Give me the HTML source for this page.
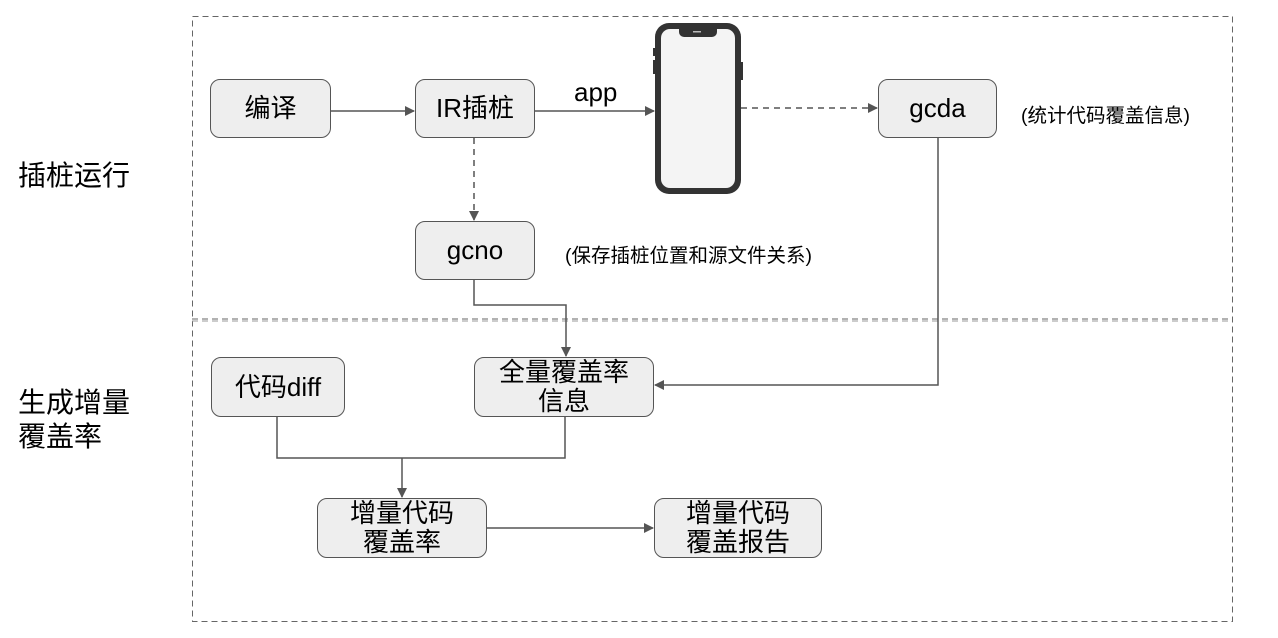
<!DOCTYPE html>
<html><head><meta charset="utf-8"><style>
body{margin:0;background:#fff;width:1278px;height:638px;overflow:hidden;position:relative;font-family:"Liberation Sans","Noto Sans CJK SC",sans-serif;}
.b{position:absolute;box-sizing:border-box;border:1.5px solid #555;border-radius:10px;background:#eeeeee;display:flex;align-items:center;justify-content:center;text-align:center;font-size:26px;line-height:29px;color:#000;}
.t{position:absolute;color:#000;white-space:nowrap;}
svg{position:absolute;left:0;top:0;}
</style></head><body>
<svg width="1278" height="638">
<defs><marker id="a" markerWidth="10" markerHeight="10" refX="9" refY="5" orient="auto" markerUnits="userSpaceOnUse"><path d="M0,0 L10,5 L0,10z" fill="#555"/></marker></defs>
<rect x="192.5" y="16.5" width="1040" height="605" fill="none" stroke="#666" stroke-dasharray="6,4"/>
<line x1="192" y1="319" x2="1232" y2="319" stroke="#666" stroke-dasharray="6,4"/>
<line x1="192" y1="321" x2="1232" y2="321" stroke="#999" stroke-dasharray="6,4"/>
<g stroke="#555" stroke-width="1.5" fill="none">
<line x1="331" y1="111" x2="414" y2="111" marker-end="url(#a)"/>
<line x1="535" y1="111" x2="654" y2="111" marker-end="url(#a)"/>
<line x1="741" y1="108" x2="877" y2="108" stroke-dasharray="6,5" marker-end="url(#a)"/>
<line x1="474" y1="138" x2="474" y2="220" stroke-dasharray="6,5" marker-end="url(#a)"/>
<polyline points="474,280 474,305 566,305 566,356" marker-end="url(#a)"/>
<polyline points="938,138 938,385 655,385" marker-end="url(#a)"/>
<polyline points="277,417 277,458 565,458 565,417"/>
<line x1="402" y1="458" x2="402" y2="497" marker-end="url(#a)"/>
<line x1="487" y1="528" x2="653" y2="528" marker-end="url(#a)"/>
</g>
<rect x="655" y="23" width="86" height="171" rx="14" fill="#333"/>
<rect x="661" y="29" width="74" height="159" rx="9" fill="#f4f4f4"/>
<path d="M679,29 h38 v3 a5,5 0 0 1 -5,5 h-28 a5,5 0 0 1 -5,-5z" fill="#333"/>
<rect x="693" y="31" width="8" height="1.5" fill="#bbb"/>
<rect x="653" y="48" width="2" height="8" fill="#333"/><rect x="653" y="60" width="2" height="14" fill="#333"/><rect x="741" y="62" width="2" height="18" fill="#333"/>
</svg>
<div class="b" style="left:210px;top:79px;width:121px;height:59px">编译</div>
<div class="b" style="left:415px;top:79px;width:120px;height:59px">IR插桩</div>
<div class="b" style="left:415px;top:221px;width:120px;height:59px">gcno</div>
<div class="b" style="left:878px;top:79px;width:119px;height:59px">gcda</div>
<div class="b" style="left:211px;top:357px;width:134px;height:60px">代码diff</div>
<div class="b" style="left:474px;top:357px;width:180px;height:60px">全量覆盖率<br>信息</div>
<div class="b" style="left:317px;top:498px;width:170px;height:60px">增量代码<br>覆盖率</div>
<div class="b" style="left:654px;top:498px;width:168px;height:60px">增量代码<br>覆盖报告</div>
<div class="t" style="left:574px;top:77px;font-size:26px">app</div>
<div class="t" style="left:1021px;top:99px;font-size:19.5px">(统计代码覆盖信息)</div>
<div class="t" style="left:565px;top:239px;font-size:19.5px">(保存插桩位置和源文件关系)</div>
<div class="t" style="left:18px;top:154px;font-size:28px">插桩运行</div>
<div class="t" style="left:18px;top:386px;font-size:28px;line-height:34px">生成增量<br>覆盖率</div>
</body></html>
